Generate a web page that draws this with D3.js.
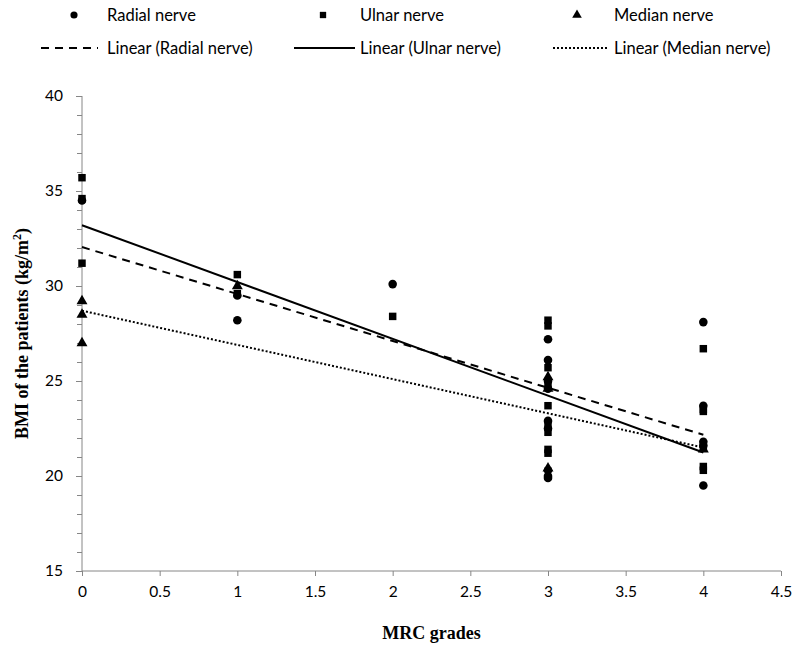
<!DOCTYPE html>
<html>
<head>
<meta charset="utf-8">
<script src="https://cdn.jsdelivr.net/npm/d3@7"></script>
<style>
  body { margin: 0; background: #fff; }
  svg { display: block; }
</style>
</head>
<body>
<svg id="chart" width="793" height="647"></svg>
<script>
// ---- Data ----
const radialX = [0, 1, 1, 2, 3, 3, 3, 3, 3, 3, 3, 3, 3, 4, 4, 4, 4, 4];
const radialY = [34.5, 29.5, 28.2, 30.1, 27.2, 26.1, 25.0, 24.6, 22.9, 22.5, 20.3, 20.0, 19.9, 28.1, 23.7, 21.8, 21.6, 19.5];

const ulnarX = [0, 0, 0, 1, 1, 2, 3, 3, 3, 3, 3, 3, 3, 3, 3, 4, 4, 4, 4, 4, 4];
const ulnarY = [35.7, 34.6, 31.2, 30.6, 29.6, 28.4, 28.2, 27.9, 25.7, 24.8, 23.7, 22.6, 22.3, 21.4, 21.2, 26.7, 23.5, 23.4, 21.5, 20.5, 20.3];

const medianX = [0, 0, 0, 1, 3, 3, 3, 4];
const medianY = [29.2, 28.5, 27.0, 30.0, 25.2, 24.6, 20.4, 21.4];

// Linear trend lines: [intercept, slope]
const radialTrend = [32.05, -2.47];
const ulnarTrend = [33.2, -2.99];
const medianTrend = [28.7, -1.80];
const trendRange = [0, 4];

const xTicks = [0, 0.5, 1, 1.5, 2, 2.5, 3, 3.5, 4, 4.5];
const yTicks = [15, 20, 25, 30, 35, 40];
const yMinorTicks = d3.range(15, 41, 1);

const seriesNames = ["Radial nerve", "Ulnar nerve", "Median nerve"];
const trendNames = ["Linear (Radial nerve)", "Linear (Ulnar nerve)", "Linear (Median nerve)"];

// ---- Layout ----
const svg = d3.select("#chart");
const mLeft = 82, mRight = 781, mTop = 96, mBottom = 571;
const axisColor = "#868686";
const tickFont = "Lato, 'Open Sans', sans-serif";

const x = d3.scaleLinear().domain([0, 4.5]).range([mLeft, mRight]);
const y = d3.scaleLinear().domain([15, 40]).range([mBottom, mTop]);

// Y axis minor ticks
const yMinorAxis = d3.axisLeft(y).tickValues(yMinorTicks).tickSize(5).tickFormat("");
const gyMinor = svg.append("g").attr("transform", `translate(${mLeft},0)`).call(yMinorAxis);
gyMinor.select(".domain").remove();
gyMinor.selectAll("line").attr("stroke", axisColor);

// Y axis
const yAxis = d3.axisLeft(y).tickValues(yTicks).tickSize(6).tickPadding(13).tickFormat(d3.format("d"));
const gy = svg.append("g").attr("transform", `translate(${mLeft},0)`).call(yAxis);
gy.select(".domain").attr("stroke", axisColor).attr("d", `M0,${mTop}V${mBottom}`);
gy.selectAll("line").attr("stroke", axisColor);
gy.selectAll("text").attr("fill", "#000").style("font-family", tickFont).style("font-size", "15.5px");

// X axis
const xAxis = d3.axisBottom(x).tickValues(xTicks).tickSize(5).tickPadding(10).tickFormat(d => String(d));
const gx = svg.append("g").attr("transform", `translate(0,${mBottom})`).call(xAxis);
gx.select(".domain").attr("stroke", axisColor).attr("d", `M${mLeft},0H${mRight}`);
gx.selectAll("line").attr("stroke", axisColor);
gx.selectAll("text").attr("fill", "#000").style("font-family", tickFont).style("font-size", "15.5px");

// Axis titles
svg.append("text")
  .attr("x", (mLeft + mRight) / 2).attr("y", 639)
  .attr("text-anchor", "middle")
  .style("font-family", "'Liberation Serif', 'Times New Roman', serif")
  .style("font-weight", "bold").style("font-size", "18px")
  .text("MRC grades");

const yt = svg.append("text")
  .attr("transform", `translate(28,${(mTop + mBottom) / 2}) rotate(-90)`)
  .attr("text-anchor", "middle")
  .style("font-family", "'Liberation Serif', 'Times New Roman', serif")
  .style("font-weight", "bold").style("font-size", "18px");
yt.append("tspan").text("BMI of the patients (kg/m");
yt.append("tspan").attr("dy", -7).style("font-size", "12px").text("2");
yt.append("tspan").attr("dy", 7).text(")");

// Symbols
const circleSym = d3.symbol().type(d3.symbolCircle).size(58);
const squareSym = d3.symbol().type(d3.symbolSquare).size(56);
const triSym = d3.symbol().type(d3.symbolTriangle).size(52);

// Trend lines
const dashes = ["8,6", null, "2,2"];
const trends = [radialTrend, ulnarTrend, medianTrend];
const line = d3.line().x(d => x(d[0])).y(d => y(d[1]));
trends.forEach((t, i) => {
  const pts = trendRange.map(v => [v, t[0] + t[1] * v]);
  svg.append("path").attr("d", line(pts))
    .attr("fill", "none").attr("stroke", "#000").attr("stroke-width", 2)
    .attr("stroke-dasharray", dashes[i]);
});

// Points
function drawPoints(xs, ys, sym) {
  svg.append("g").selectAll("path").data(xs.map((v, i) => [v, ys[i]])).join("path")
    .attr("transform", d => `translate(${x(d[0])},${y(d[1])})`)
    .attr("d", sym).attr("fill", "#000");
}
drawPoints(radialX, radialY, circleSym);
drawPoints(ulnarX, ulnarY, squareSym);
drawPoints(medianX, medianY, triSym);

// Legend
const legFont = "Lato, 'Open Sans', sans-serif";
const row1 = 15, row2 = 48;
const legTypes = [d3.symbolCircle, d3.symbolSquare, d3.symbolTriangle];
const legSymX = [74, 323, 577];
const legTextX = [107, 360, 614];
const legLineX = [[41, 98], [294, 355], [553, 607]];
legTypes.forEach((t, i) => {
  svg.append("path").attr("transform", `translate(${legSymX[i]},${row1})`)
    .attr("d", d3.symbol().type(t).size(40)).attr("fill", "#000");
  svg.append("text").attr("x", legTextX[i]).attr("y", row1).attr("dy", "0.35em")
    .style("font-family", legFont).style("font-size", "16.5px").text(seriesNames[i]);
  svg.append("line").attr("x1", legLineX[i][0]).attr("x2", legLineX[i][1])
    .attr("y1", row2).attr("y2", row2)
    .attr("stroke", "#000").attr("stroke-width", 2).attr("stroke-dasharray", dashes[i]);
  svg.append("text").attr("x", legTextX[i]).attr("y", row2).attr("dy", "0.35em")
    .style("font-family", legFont).style("font-size", "16.5px").text(trendNames[i]);
});
</script>
</body>
</html>
